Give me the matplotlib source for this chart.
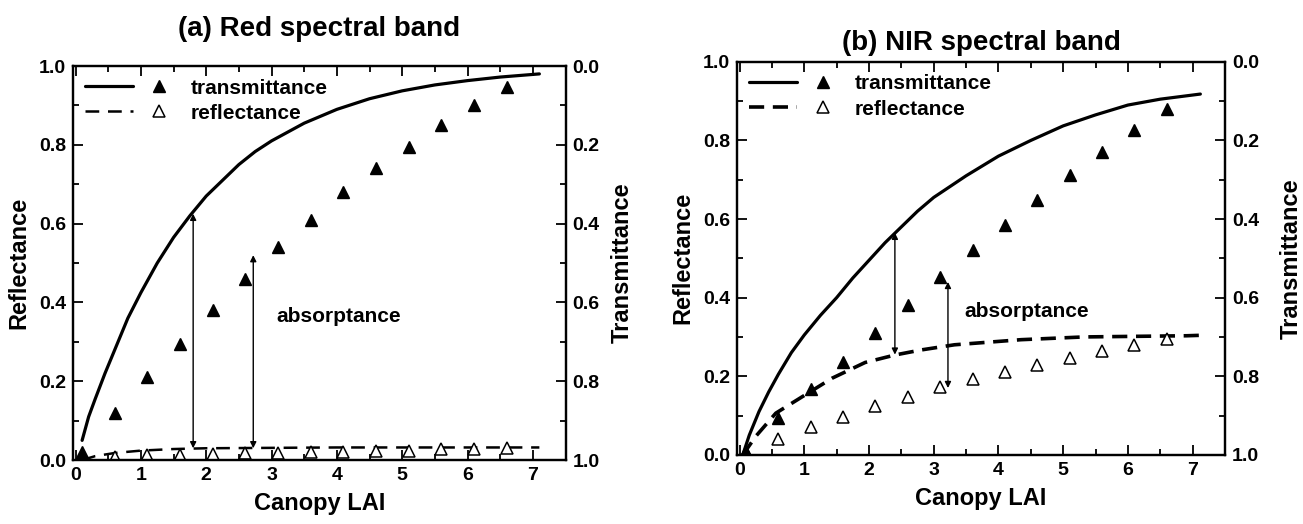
import numpy as np
import matplotlib.pyplot as plt
from matplotlib.ticker import MultipleLocator
from matplotlib.legend_handler import HandlerTuple

plt.rcParams['font.family'] = ['Liberation Sans', 'DejaVu Sans']
plt.rcParams['font.weight'] = 'bold'

# LAI sampling of the simulated points
lai_pts = [0.1, 0.6, 1.1, 1.6, 2.1, 2.6, 3.1, 3.6, 4.1, 4.6, 5.1, 5.6, 6.1, 6.6]

# (a) red band
red_curve_lai = [0.1, 0.2, 0.3, 0.45, 0.6, 0.8, 1.0, 1.25, 1.5, 1.75, 2.0, 2.25, 2.5, 2.75,
                 3.0, 3.5, 4.0, 4.5, 5.0, 5.5, 6.0, 6.5, 7.1]
red_trans_curve = [0.95, 0.89, 0.845, 0.78, 0.72, 0.64, 0.575, 0.50, 0.435, 0.38, 0.33, 0.29,
                   0.25, 0.217, 0.19, 0.145, 0.11, 0.083, 0.063, 0.048, 0.037, 0.028, 0.02]
red_refl_curve_lai = [0.1, 0.3, 0.6, 1.0, 1.5, 2.0, 3.0, 4.0, 5.0, 7.1]
red_refl_curve = [0.0, 0.01, 0.018, 0.024, 0.028, 0.03, 0.031, 0.032, 0.032, 0.032]
red_trans_pts = [0.98, 0.88, 0.79, 0.705, 0.62, 0.54, 0.46, 0.39, 0.32, 0.26, 0.205, 0.15, 0.10, 0.053]
red_refl_pts = [0.005, 0.008, 0.012, 0.013, 0.015, 0.017, 0.018, 0.02, 0.02, 0.022, 0.022,
                0.027, 0.028, 0.03]
# absorptance arrows: LAI, lower end, upper end (reflectance axis)
red_arrow_lai = [1.8, 2.72]
red_arrow_low = [0.03, 0.03]
red_arrow_high = [0.625, 0.52]

# (b) NIR band
nir_curve_lai = [0.05, 0.15, 0.3, 0.45, 0.6, 0.8, 1.0, 1.25, 1.5, 1.75, 2.0, 2.25, 2.5, 2.75,
                 3.0, 3.5, 4.0, 4.5, 5.0, 5.5, 6.0, 6.5, 7.12]
nir_trans_curve = [1.0, 0.95, 0.89, 0.84, 0.795, 0.74, 0.695, 0.645, 0.60, 0.55, 0.505, 0.46,
                   0.42, 0.38, 0.345, 0.29, 0.24, 0.20, 0.163, 0.135, 0.11, 0.095, 0.082]
nir_refl_curve_lai = [0.05, 0.25, 0.56, 0.97, 1.43, 1.94, 2.4, 2.81, 3.32, 4.35, 5.32, 6.91, 7.1]
nir_refl_curve = [0.0, 0.047, 0.106, 0.148, 0.195, 0.235, 0.254, 0.267, 0.28, 0.293, 0.3, 0.303, 0.304]
nir_trans_pts = [0.992, 0.907, 0.833, 0.763, 0.69, 0.62, 0.547, 0.48, 0.415, 0.351, 0.288, 0.23,
                 0.173, 0.12]
nir_refl_pts = [0.008, 0.04, 0.072, 0.097, 0.125, 0.148, 0.172, 0.193, 0.212, 0.228, 0.246,
                0.263, 0.28, 0.294]
nir_arrow_lai = [2.4, 3.22]
nir_arrow_low = [0.255, 0.17]
nir_arrow_high = [0.565, 0.44]

panels = [
    dict(title='(a) Red spectral band', pos=[0.056, 0.122, 0.378, 0.752],
         tc_x=red_curve_lai, tc=red_trans_curve, rc_x=red_refl_curve_lai, rc=red_refl_curve,
         tp=red_trans_pts, rp=red_refl_pts, dash_lw=1.8, dash=(5.5, 3.5),
         arrows=(red_arrow_lai, red_arrow_low, red_arrow_high),
         absorb_xy=(3.08, 0.365), title_y=0.945, tpad=8),
    dict(title='(b) NIR spectral band', pos=[0.5656, 0.132, 0.3745, 0.75],
         tc_x=nir_curve_lai, tc=nir_trans_curve, rc_x=nir_refl_curve_lai, rc=nir_refl_curve,
         tp=nir_trans_pts, rp=nir_refl_pts, dash_lw=2.6, dash=(4.2, 2.4),
         arrows=(nir_arrow_lai, nir_arrow_low, nir_arrow_high),
         absorb_xy=(3.47, 0.365), title_y=0.918, tpad=15),
]

fig = plt.figure(figsize=(13.03, 5.24), dpi=100)

for p in panels:
    ax = fig.add_axes(p['pos'])
    ax2 = ax.twinx()

    # transmittance on the inverted right axis
    lt, = ax2.plot(p['tc_x'], p['tc'], color='black', lw=2.3, solid_capstyle='round',
                   solid_joinstyle='round')
    mt, = ax2.plot(lai_pts, p['tp'], ls='none', marker='^', ms=8, color='black')
    ax2.set_ylim(1.0, 0.0)

    lr, = ax.plot(p['rc_x'], p['rc'], color='black', lw=p['dash_lw'], ls=(0, p['dash']))
    mr, = ax.plot(lai_pts, p['rp'], ls='none', marker='^', ms=8, mfc='white', mec='black', mew=1.1)
    ax.set_ylim(0.0, 1.0)
    ax.set_xlim(-0.04, 7.5)

    for x, y0, y1 in zip(*p['arrows']):
        ax.annotate('', xy=(x, y0), xytext=(x, y1),
                    arrowprops=dict(arrowstyle='<|-|>', lw=1.0, color='black',
                                    mutation_scale=9, shrinkA=0, shrinkB=0))
    ax.text(*p['absorb_xy'], 'absorptance', fontsize=15, fontweight='bold', va='center')

    ax.xaxis.set_major_locator(MultipleLocator(1))
    ax.xaxis.set_minor_locator(MultipleLocator(0.5))
    ax.yaxis.set_major_locator(MultipleLocator(0.2))
    ax.yaxis.set_minor_locator(MultipleLocator(0.1))
    ax2.yaxis.set_major_locator(MultipleLocator(0.2))
    ax2.yaxis.set_minor_locator(MultipleLocator(0.1))
    ax.yaxis.set_major_formatter('{x:.1f}')
    ax2.yaxis.set_major_formatter('{x:.1f}')

    ax.tick_params(which='both', direction='in', top=True, right=False, width=1.3, labelsize=14)
    ax.tick_params(which='major', length=7, pad=5)
    ax.tick_params(which='minor', length=4)
    ax2.tick_params(which='both', direction='in', right=True, left=False, width=1.3, labelsize=14)
    ax2.tick_params(which='major', length=7, pad=5)
    ax2.tick_params(which='minor', length=4)
    for a in (ax, ax2):
        for s in a.spines.values():
            s.set_linewidth(1.6)

    ax.set_xlabel('Canopy LAI', fontsize=17, fontweight='bold', labelpad=6)
    ax.set_ylabel('Reflectance', fontsize=17, fontweight='bold', labelpad=6)
    ax2.set_ylabel('Transmittance', fontsize=17, fontweight='bold', labelpad=p['tpad'])

    ax.legend([(lt, mt), (lr, mr)], ['transmittance', 'reflectance'],
              handler_map={tuple: HandlerTuple(ndivide=None, pad=0.12)},
              loc='upper left', frameon=False, fontsize=15, handlelength=4.65,
              handletextpad=0.4, borderaxespad=0.2, labelspacing=0.3)

    cx = p['pos'][0] + p['pos'][2] / 2
    fig.text(cx, p['title_y'], p['title'], ha='center', va='center', fontsize=20, fontweight='bold')

fig.savefig('out.png', dpi=100)
